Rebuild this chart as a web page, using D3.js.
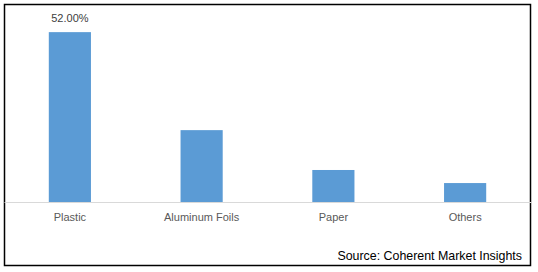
<!DOCTYPE html>
<html>
<head>
  <meta charset="utf-8">
  <title>Packaging material share</title>
  <script src="https://d3js.org/d3.v7.min.js"></script>
  <style>
    body { margin: 0; background: #fff; }
    text { font-family: "Liberation Sans", Arial, sans-serif; }
  </style>
</head>
<body>
<script>
  // categories and their share (%)
  var categories = ["Plastic", "Aluminum Foils", "Paper", "Others"];
  var shares = [52.0, 22.0, 9.8, 5.8];
  // only the first bar carries a value label
  var labels = ["52.00%", "", "", ""];
  var source = "Source: Coherent Market Insights";

  var W = 538, H = 272;
  var svg = d3.select("body").append("svg")
    .attr("width", W)
    .attr("height", H);

  // outer frame
  svg.append("rect")
    .attr("x", 4.5).attr("y", 4.5)
    .attr("width", 526).attr("height", 261)
    .attr("fill", "#fff")
    .attr("stroke", "#000")
    .attr("stroke-width", 1.5);

  var x = d3.scaleBand()
    .domain(categories)
    .range([4, 531])
    .paddingInner(0.68)
    .paddingOuter(0.34);

  var y = d3.scaleLinear()
    .domain([0, 60])
    .range([202, 6]);

  var data = categories.map(function(c, i) {
    return { cat: c, val: shares[i], label: labels[i] };
  });

  svg.append("g").selectAll("rect")
    .data(data)
    .join("rect")
    .attr("x", function(d) { return x(d.cat); })
    .attr("y", function(d) { return y(d.val); })
    .attr("width", x.bandwidth())
    .attr("height", function(d) { return y(0) - y(d.val); })
    .attr("fill", "#5b9bd5");

  // baseline axis
  var xAxis = d3.axisBottom(x).tickSize(0).tickPadding(11);
  var gx = svg.append("g")
    .attr("transform", "translate(0," + y(0) + ")")
    .call(xAxis);
  gx.select(".domain").attr("stroke", "#d9d9d9").attr("stroke-width", 1.2);
  gx.selectAll("text")
    .attr("fill", "#595959")
    .style("font-size", "11px");

  // value labels
  svg.append("g").selectAll("text")
    .data(data.filter(function(d) { return d.label; }))
    .join("text")
    .attr("x", function(d) { return x(d.cat) + x.bandwidth() / 2; })
    .attr("y", function(d) { return y(d.val) - 10; })
    .attr("text-anchor", "middle")
    .attr("fill", "#404040")
    .style("font-size", "11px")
    .text(function(d) { return d.label; });

  svg.append("text")
    .attr("x", 522)
    .attr("y", 260)
    .attr("text-anchor", "end")
    .attr("fill", "#000")
    .style("font-size", "12.4px")
    .text(source);
</script>
</body>
</html>
